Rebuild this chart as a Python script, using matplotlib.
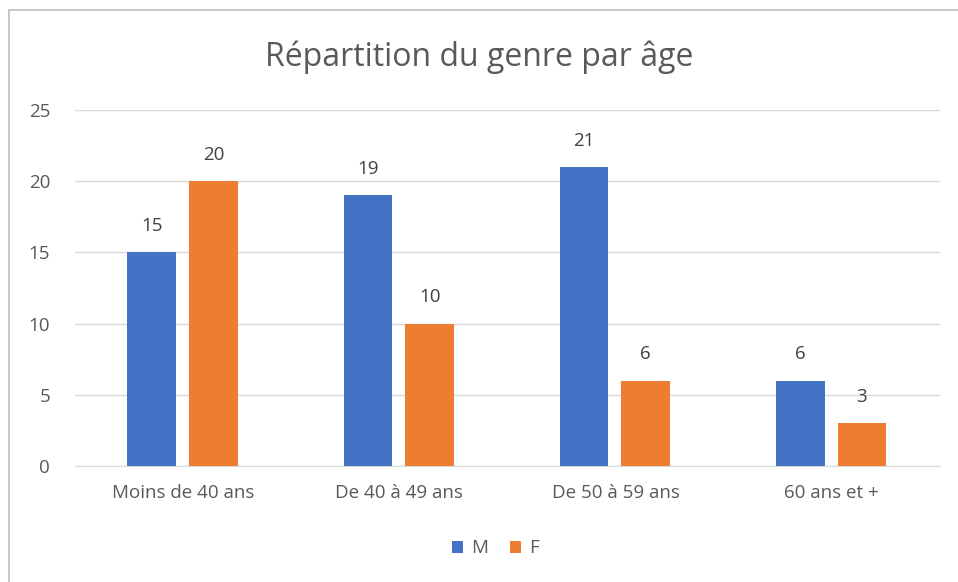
import matplotlib.pyplot as plt
import numpy as np
from matplotlib.patches import Rectangle

categories = ['Moins de 40 ans', 'De 40 à 49 ans', 'De 50 à 59 ans', '60 ans et +']
m_values = [15, 19, 21, 6]
f_values = [20, 10, 6, 3]

plt.rcParams['font.family'] = ['Open Sans', 'DejaVu Sans']
grey = '#595959'

fig = plt.figure(figsize=(9.58, 5.82), dpi=100)
ax = fig.add_axes([0.0783, 0.1993, 0.9027, 0.6117])

# chart border like excel
fig.patches.append(Rectangle((9 / 958, -0.1), 1.1, 1 - 10 / 582 + 0.1, transform=fig.transFigure,
                             fill=False, edgecolor='#bfbfbf', linewidth=1.2))

x = np.arange(len(categories))
w = 0.225
b1 = ax.bar(x - 0.145, m_values, w, color='#4472C4', label='M', zorder=3)
b2 = ax.bar(x + 0.14, f_values, w, color='#ED7D31', label='F', zorder=3)

for bars in (b1, b2):
    for r in bars:
        ax.annotate(str(int(r.get_height())), (r.get_x() + r.get_width() / 2, r.get_height()),
                    xytext=(0, 19), textcoords='offset points', ha='center', va='center',
                    fontsize=13.5, color='#404040')

ax.set_xlim(-0.5, 3.5)
ax.set_ylim(0, 25)
ax.set_yticks(range(0, 26, 5))
ax.set_xticks(x)
ax.set_xticklabels(categories)
ax.grid(axis='y', color='#d9d9d9', linewidth=1, zorder=0)
for s in ['top', 'right', 'left']:
    ax.spines[s].set_visible(False)
ax.spines['bottom'].set_color('#d9d9d9')
ax.tick_params(axis='both', length=0, labelsize=13.5, colors=grey)
ax.tick_params(axis='y', pad=18)
ax.tick_params(axis='x', pad=13)

fig.text(0.5, 0.902, 'Répartition du genre par âge', ha='center', va='center',
         fontsize=23, color=grey)

fig.legend(handles=[b1, b2], labels=['M', 'F'], loc='center', bbox_to_anchor=(0.517, 0.058),
           ncol=2, frameon=False, fontsize=13.5, labelcolor=grey, handlelength=0.6,
           handleheight=0.6, handletextpad=0.4, columnspacing=1.2)

fig.savefig('out.png', dpi=100)
